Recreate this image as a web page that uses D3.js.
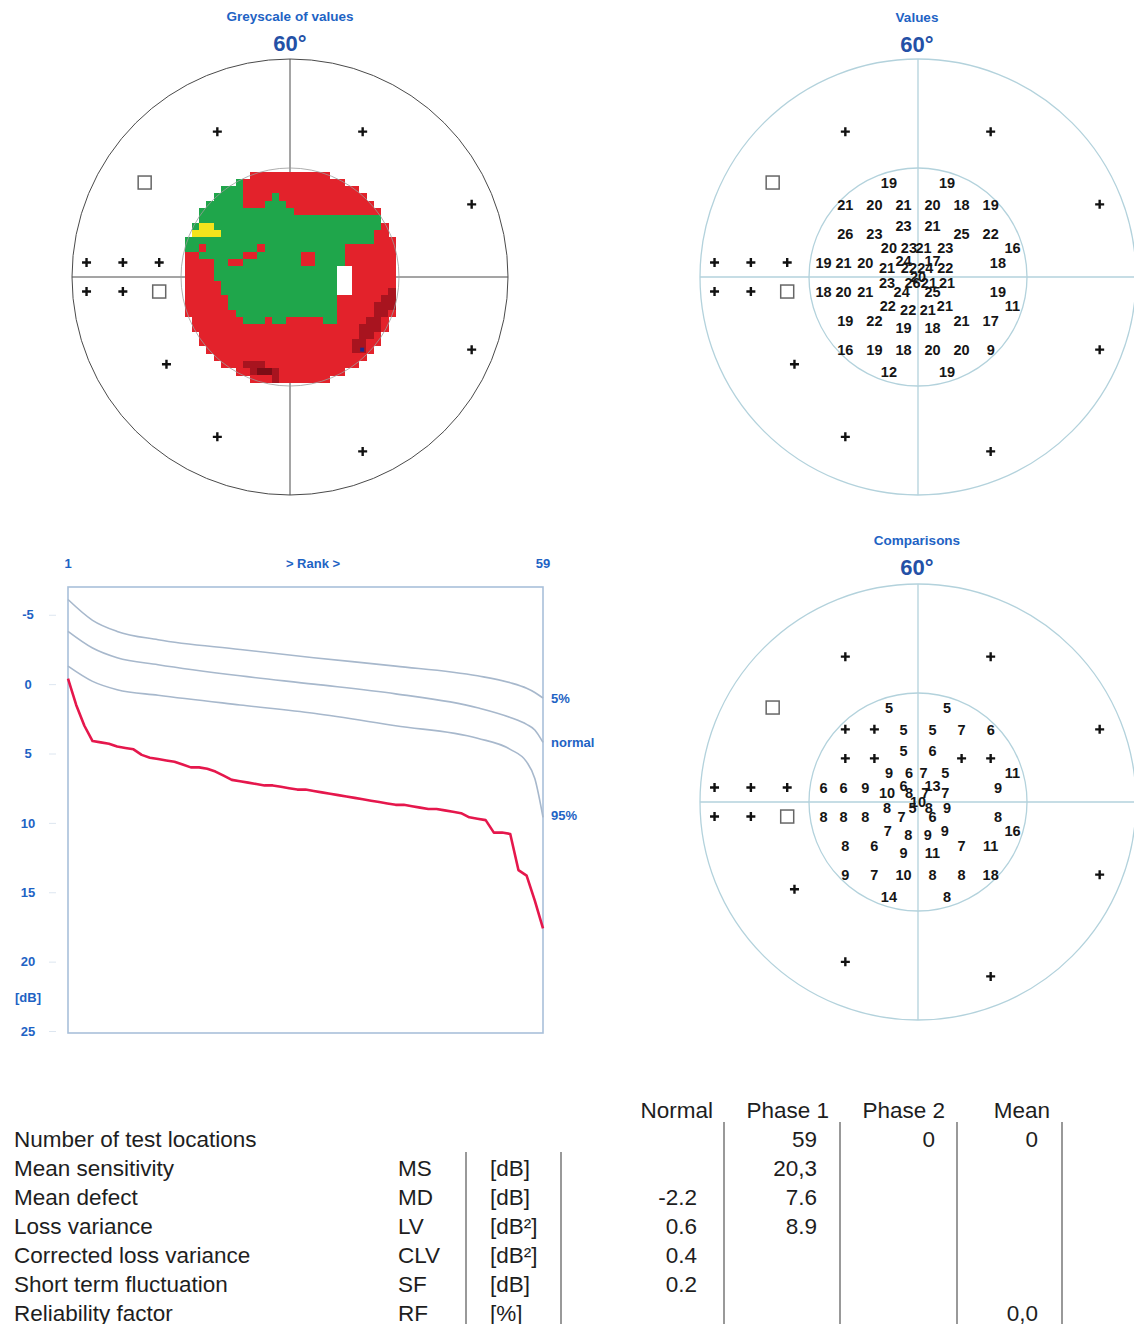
<!DOCTYPE html>
<html>
<head>
<meta charset="utf-8">
<script src="https://cdn.jsdelivr.net/npm/d3@7"></script>
<style>
body{margin:0;background:#fff;}
text{font-family:"Liberation Sans",Arial,sans-serif;}
</style>
</head>
<body>
<div id="content"></div>
<script>
// test locations (degrees), sensitivity values and comparisons (null = within normal, shown as +)
const locX = [-8,8,-20,-12,-4,4,12,20,-20,-12,-4,4,12,20,26,-8,-2.5,1.5,7.5,-4,4,-26,-20.5,-14.5,22,
  -8.5,-2.5,2,7.5,0,-8.5,-1.5,3,8,-4.5,4,-26,-20.5,-14.5,22,26,-8.3,-2.7,2.7,7.4,-20,-12,-4,4,12,20,
  -20,-12,-4,4,12,20,-8,8];
const locY = [-26,-26,-20,-20,-20,-20,-20,-20,-12,-12,-14,-14,-12,-12,-8,-8,-8,-8,-8,-4.5,-4.5,-4,-4,-4,-4,
  -2.5,-2.5,-2.5,-2.5,0,1.5,1.5,1.5,1.5,4,4,4,4,4,4,8,8,9,9,8,12,12,14,14,12,12,
  20,20,20,20,20,20,26,26];
const locValue = [19,19,21,20,21,20,18,19,26,23,23,21,25,22,16,20,23,21,23,24,17,19,21,20,18,
  21,22,24,22,20,23,26,21,21,24,25,18,20,21,19,11,22,22,21,21,19,22,19,18,21,17,
  16,19,18,20,20,9,12,19];
const locComp = [5,5,null,null,5,5,7,6,null,null,5,6,null,null,11,9,6,7,5,6,13,6,6,9,9,
  10,8,7,7,10,8,5,8,9,7,6,8,8,8,8,16,7,8,9,9,8,6,9,11,7,11,
  9,7,10,8,8,18,14,8];

// outer (untested) crosses and blind spot squares, degrees
const outerX = [-20,20,50,50,-56,-46,-36,-56,-46,-34,-20,20];
const outerY = [-40,-40,-20,20,-4,-4,-4,4,4,24,44,48];
const squareX = [-40,-36];
const squareY = [-26,4];

// greyscale map, 2 deg cells, rows y=-30..30, cols x=-30..30
const greyRows = [
"...............................",
"..........RRRRRRRRRRR..........",
"........GRRRRRRRRRRRRRR........",
"......GGGRRRRRRRRRRRRRRRR......",
".....GGGGRRRRGRRRRRRRRRRRR.....",
"....GGGGGRRRGGGRRRRRRRRRRRR....",
"...GGGGGGGGGGGGGRRRRRRRRRRRR...",
"...GGGGGGGGGGGGGGGGGGGGGGGGG...",
"..GYYGGGGGGGGGGGGGGGGGGGGGGGR..",
"..YYYYGGGGGGGGGGGGGGGGGGGGGRR..",
".GGGGGGGGGGGGGGGGGGGGGGGGGGRRR.",
".GGRGGGGGGGRGGGGGGGGGGGRRRRRRR.",
".RRGGGGGGRRGGGGGGRRGGGGRRRRRRR.",
".RRRRGGRRGGGGGGGGRRGGGGRRRRRRR.",
".RRRRGGGGGGGGGGGGGGGGGWWRRRRRR.",
".RRRRGGGGGGGGGGGGGGGGGWWRRRRRR.",
".RRRRRGGGGGGGGGGGGGGGGWWRRRRRR.",
".RRRRRGGGGGGGGGGGGGGGGWWRRRRRD.",
".RRRRRRGGGGGGGGGGGGGGGRRRRRRDD.",
".RRRRRRGGGGGGGGGGGGGGGRRRRRDDD.",
".RRRRRRRGGGGGGGGGGGGGGRRRRRDDR.",
"..RRRRRRRGGGRGGRRRRRGGRRRRDDR..",
"..RRRRRRRRRRRRRRRRRRRRRRRDDDR..",
"...RRRRRRRRRRRRRRRRRRRRRRDDR...",
"...RRRRRRRRRRRRRRRRRRRRRDDRR...",
"....RRRRRRRRRRRRRRRRRRRRDBR....",
".....RRRRRRRRRRRRRRRRRRRRR.....",
"......RRRDDDRRRRRRRRRRRRR......",
"........RRDEEDRRRRRRRRR........",
"..........RRRDRRRRRRR..........",
"..............................."
];
const greyColors = {G:"#1fa64b",R:"#e3222b",D:"#a8141f",E:"#7c0d16",Y:"#f3e41c",W:"#ffffff",B:"#a8141f"};

// cumulative defect curve (Bebie), rank 1..59, dB
const defectCurve = [-0.4,1.5,3.0,4.1,4.2,4.3,4.5,4.6,4.7,5.1,5.3,5.4,5.5,5.6,5.8,6.0,6.0,6.1,6.3,6.6,
  6.9,7.0,7.1,7.2,7.3,7.3,7.4,7.5,7.6,7.6,7.7,7.8,7.9,8.0,8.1,8.2,8.3,8.4,8.5,8.6,
  8.7,8.7,8.8,8.9,9.0,9.0,9.1,9.2,9.3,9.6,9.7,9.8,10.7,10.7,10.8,13.4,13.8,15.6,17.6];
const bandRanks = [1,4,7,12,22,31,41,51,55,57,58,59];
const band5 = [-6.1,-4.6,-3.8,-3.2,-2.5,-1.9,-1.3,-0.6,-0.1,0.3,0.6,1.0];
const bandNormal = [-3.8,-2.6,-1.9,-1.4,-0.6,0,0.7,1.7,2.4,2.9,3.3,4.2];
const band95 = [-1.3,-0.2,0.4,0.8,1.5,2.1,3.0,3.9,4.7,5.6,6.8,9.6];
const dbTicks = [-5,0,5,10,15,20,25];
const bandLabels = ["5%","normal","95%"];

// indices table
const tableHeaders = ["Normal","Phase 1","Phase 2","Mean"];
const tableLabels = ["Number of test locations","Mean sensitivity","Mean defect","Loss variance",
  "Corrected loss variance","Short term fluctuation","Reliability factor"];
const tableAbbr = ["","MS","MD","LV","CLV","SF","RF"];
const tableUnits = ["","[dB]","[dB]","[dB²]","[dB²]","[dB]","[%]"];
const colNormal = ["","","-2.2","0.6","0.4","0.2",""];
const colPhase1 = ["59","20,3","7.6","8.9","","",""];
const colPhase2 = ["0","","","","","",""];
const colMean = ["0","","","","","","0,0"];

const w = 1134, h = 1324;
const fieldR = 218;
const blue = "#1e63c4", darkBlue = "#2450a6";
const svg = d3.select("#content").append("svg").attr("width", w).attr("height", h);
svg.append("rect").attr("width", w).attr("height", h).attr("fill", "#fff");

const locations = locX.map((x, i) => ({x: x, y: locY[i], v: locValue[i], c: locComp[i]}));
const outer = outerX.map((x, i) => ({x: x, y: outerY[i]}));
const squares = squareX.map((x, i) => ({x: x, y: squareY[i]}));

function makeField(cx, cy){
  return {
    x: d3.scaleLinear().domain([-60, 60]).range([cx - fieldR, cx + fieldR]),
    y: d3.scaleLinear().domain([-60, 60]).range([cy - fieldR, cy + fieldR]),
    k: fieldR / 60, cx: cx, cy: cy
  };
}

function drawFrame(g, f, color, width, withInner){
  g.append("line").attr("x1", f.x(-60)).attr("x2", f.x(60)).attr("y1", f.cy).attr("y2", f.cy)
    .attr("stroke", color).attr("stroke-width", width);
  g.append("line").attr("y1", f.y(-60)).attr("y2", f.y(60)).attr("x1", f.cx).attr("x2", f.cx)
    .attr("stroke", color).attr("stroke-width", width);
  g.append("circle").attr("cx", f.cx).attr("cy", f.cy).attr("r", 60 * f.k)
    .attr("fill", "none").attr("stroke", color).attr("stroke-width", width);
  if (withInner) {
    g.append("circle").attr("cx", f.cx).attr("cy", f.cy).attr("r", 30 * f.k)
      .attr("fill", "none").attr("stroke", color).attr("stroke-width", width);
  }
}

function drawTitle(cx, y, label){
  svg.append("text").attr("x", cx).attr("y", y).attr("text-anchor", "middle")
    .attr("font-size", "13.5px").attr("font-weight", "bold").attr("fill", blue).text(label);
  svg.append("text").attr("x", cx).attr("y", y + 30).attr("text-anchor", "middle")
    .attr("font-size", "22px").attr("font-weight", "bold").attr("fill", darkBlue).text("60°");
}

function drawCrosses(g, f, data){
  g.selectAll(null).data(data).enter().append("path")
    .attr("d", d => `M${f.x(d.x) - 4.5},${f.y(d.y)}H${f.x(d.x) + 4.5}M${f.x(d.x)},${f.y(d.y) - 4.5}V${f.y(d.y) + 4.5}`)
    .attr("stroke", "#111").attr("stroke-width", 2.4);
}

function drawSquares(g, f){
  g.selectAll(null).data(squares).enter().append("rect")
    .attr("x", d => f.x(d.x) - 6.5).attr("y", d => f.y(d.y) - 6.5)
    .attr("width", 13).attr("height", 13)
    .attr("fill", "none").attr("stroke", "#666").attr("stroke-width", 1.5);
}

function drawNumbers(g, f, data, key){
  g.selectAll(null).data(data).enter().append("text")
    .attr("x", d => f.x(d.x)).attr("y", d => f.y(d.y)).attr("dy", "0.36em")
    .attr("text-anchor", "middle").attr("font-size", "14.5px").attr("font-weight", "bold")
    .attr("fill", "#151515").text(d => d[key]);
}

// ---- Greyscale of values
const fg = makeField(290, 277);
const gGrey = svg.append("g");
drawFrame(gGrey, fg, "#4a4a4a", 1, false);
const cells = [];
greyRows.forEach((row, r) => {
  row.split("").forEach((ch, c) => {
    if (ch !== ".") cells.push({x: -30 + 2 * c, y: -30 + 2 * r, cls: ch});
  });
});
gGrey.selectAll("rect.cell").data(cells).enter().append("rect").attr("class", "cell")
  .attr("x", d => fg.x(d.x - 1)).attr("y", d => fg.y(d.y - 1))
  .attr("width", d => fg.x(d.x + 1) - fg.x(d.x - 1) + 0.4)
  .attr("height", d => fg.y(d.y + 1) - fg.y(d.y - 1) + 0.4)
  .attr("fill", d => greyColors[d.cls]).attr("shape-rendering", "crispEdges");
// small dark blue spot inside the 'B' cell
gGrey.selectAll("rect.spot").data(cells.filter(d => d.cls === "B")).enter().append("rect")
  .attr("x", d => fg.x(d.x) - 2.5).attr("y", d => fg.y(d.y) - 2)
  .attr("width", 4).attr("height", 4).attr("fill", "#1b2a8c");
gGrey.append("circle").attr("cx", fg.cx).attr("cy", fg.cy).attr("r", 30 * fg.k)
  .attr("fill", "none").attr("stroke", "#9a9a9a").attr("stroke-width", 0.8);
drawCrosses(gGrey, fg, outer);
drawSquares(gGrey, fg);
drawTitle(290, 21, "Greyscale of values");

// ---- Values
const fv = makeField(918, 277);
const gVal = svg.append("g");
drawFrame(gVal, fv, "#b3d2dc", 1.3, true);
drawCrosses(gVal, fv, outer);
drawSquares(gVal, fv);
drawNumbers(gVal, fv, locations, "v");
drawTitle(917, 22, "Values");

// ---- Comparisons
const fc = makeField(918, 802);
const gCmp = svg.append("g");
drawFrame(gCmp, fc, "#b3d2dc", 1.3, true);
drawCrosses(gCmp, fc, outer);
drawCrosses(gCmp, fc, locations.filter(d => d.c === null));
drawSquares(gCmp, fc);
drawNumbers(gCmp, fc, locations.filter(d => d.c !== null), "c");
drawTitle(917, 545, "Comparisons");

// ---- Cumulative defect curve
const xRank = d3.scaleLinear().domain([1, 59]).range([68, 543]);
const yDb = d3.scaleLinear().domain([-7, 25]).range([587, 1031]);
const gB = svg.append("g");
gB.append("rect").attr("x", 68).attr("y", 587).attr("width", 543 - 68).attr("height", 1033 - 587)
  .attr("fill", "none").attr("stroke", "#a9c0da").attr("stroke-width", 1.6);

const yAxis = d3.axisLeft(yDb).tickValues(dbTicks).tickFormat(d => String(d)).tickSize(7).tickPadding(14);
const axG = gB.append("g").attr("transform", "translate(56,0)").call(yAxis);
axG.select(".domain").remove();
axG.selectAll(".tick line").attr("stroke", "#dde6f0");
axG.selectAll(".tick text").attr("fill", blue).attr("font-size", "13px").attr("font-weight", "bold")
  .attr("text-anchor", "middle").attr("x", -28)
  .attr("font-family", "'Liberation Sans',Arial,sans-serif");
gB.append("text").attr("x", 28).attr("y", 997).attr("dy", "0.36em").attr("text-anchor", "middle")
  .attr("font-size", "13px").attr("font-weight", "bold").attr("fill", blue).text("[dB]");

[["1", 68], ["> Rank >", 313], ["59", 543]].forEach(t => {
  gB.append("text").attr("x", t[1]).attr("y", 563).attr("dy", "0.36em").attr("text-anchor", "middle")
    .attr("font-size", "13px").attr("font-weight", "bold").attr("fill", blue).text(t[0]);
});

const bandLine = d3.line().x((d, i) => xRank(bandRanks[i])).y(d => yDb(d)).curve(d3.curveMonotoneX);
[band5, bandNormal, band95].forEach(b => {
  gB.append("path").attr("d", bandLine(b)).attr("fill", "none")
    .attr("stroke", "#a7b8cc").attr("stroke-width", 1.6);
});
const defLine = d3.line().x((d, i) => xRank(i + 1)).y(d => yDb(d));
gB.append("path").attr("d", defLine(defectCurve)).attr("fill", "none")
  .attr("stroke", "#e5174c").attr("stroke-width", 2.6).attr("stroke-linejoin", "round");

const labelY = [698, 742, 815];
bandLabels.forEach((t, i) => {
  gB.append("text").attr("x", 551).attr("y", labelY[i]).attr("dy", "0.36em")
    .attr("font-size", "13px").attr("font-weight", "bold").attr("fill", blue).text(t);
});

// ---- Table
const gT = svg.append("g").attr("font-size", "22.5px").attr("fill", "#1e1e1e");
const rowY = d3.range(tableLabels.length).map(i => 1139 + i * 28.9);
const headX = [713, 829, 945, 1050];
tableHeaders.forEach((t, i) => {
  gT.append("text").attr("x", headX[i]).attr("y", 1110).attr("dy", "0.36em")
    .attr("text-anchor", "end").text(t);
});
[724, 840, 957, 1062].forEach(x => {
  gT.append("line").attr("x1", x).attr("x2", x).attr("y1", 1122).attr("y2", h)
    .attr("stroke", "#555").attr("stroke-width", 1.2);
});
[466, 561].forEach(x => {
  gT.append("line").attr("x1", x).attr("x2", x).attr("y1", 1152).attr("y2", h)
    .attr("stroke", "#555").attr("stroke-width", 1.2);
});
const cols = [
  {data: tableLabels, x: 14, anchor: "start"},
  {data: tableAbbr, x: 398, anchor: "start"},
  {data: tableUnits, x: 490, anchor: "start"},
  {data: colNormal, x: 697, anchor: "end"},
  {data: colPhase1, x: 817, anchor: "end"},
  {data: colPhase2, x: 935, anchor: "end"},
  {data: colMean, x: 1038, anchor: "end"}
];
cols.forEach(col => {
  col.data.forEach((t, i) => {
    if (t === "") return;
    gT.append("text").attr("x", col.x).attr("y", rowY[i]).attr("dy", "0.36em")
      .attr("text-anchor", col.anchor).text(t);
  });
});
</script>
</body>
</html>
